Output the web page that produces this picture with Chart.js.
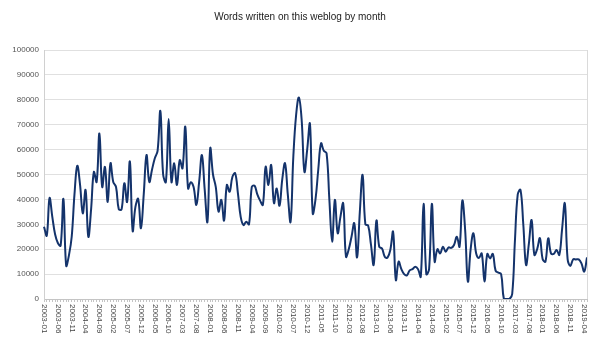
<!DOCTYPE html>
<html>
<head>
<meta charset="utf-8">
<script src="https://cdn.jsdelivr.net/npm/chart.js@4/dist/chart.umd.min.js"></script>
<style>
  html, body { margin: 0; padding: 0; background: #fff; }
  #chart { display: block; }
</style>
</head>
<body>
<canvas id="chart" width="600" height="341"></canvas>
<script>
const chartTitle = 'Words written on this weblog by month';

// months 2003-01 .. 2019-05
const firstYear = 2003;
const monthCount = 197;
const months = [];
for (let i = 0; i < monthCount; i++) {
    const y = firstYear + Math.floor(i / 12);
    const m = (i % 12) + 1;
    months.push(y + '-' + (m < 10 ? '0' + m : m));
}

// words per month
const words = [
    29000, 25500, 40500, 33000, 26000, 22500, 21400, 40200, 13400, 17500,
    25000, 42000, 53500, 46000, 34400, 43800, 25000, 36000, 51000, 47000,
    66500, 45000, 53000, 39000, 54500, 47000, 45000, 36000, 36000, 46500,
    39000, 55200, 27400, 37000, 40200, 28400, 42000, 57800, 47000, 52000,
    56500, 59500, 75500, 50000, 47000, 72300, 47000, 54500, 45800, 55800,
    52500, 69200, 44400, 46900, 45000, 37800, 47000, 57800, 44000, 31000,
    60500, 50000, 45000, 35100, 39800, 31500, 45800, 43100, 49000, 50500,
    42400, 33000, 29700, 31000, 30000, 45000, 45500, 42000, 39500, 37800,
    53100, 45800, 53800, 38500, 44400, 37500, 48000, 54500, 42000, 31000,
    57200, 73900, 80900, 72000, 51100, 60000, 70300, 34400, 40000, 52000,
    62500, 59500, 58500, 40000, 23000, 39800, 26400, 33000, 38400, 17000,
    20000, 25000, 30400, 16700, 35000, 49800, 30000, 29500, 22000, 13700,
    31500, 21000, 20300, 17000, 16600, 19700, 27000, 7600, 15000, 12000,
    10000, 9500, 11500, 12000, 13000, 12000, 9000, 38200, 10000, 12000,
    38200, 15000, 20000, 18300, 21000, 19000, 20700, 20500, 21700, 25000,
    21000, 39500, 28000, 7000, 20000, 26400, 18300, 16500, 18300, 7000,
    18100, 16300, 18100, 11400, 10600, 10000, 0, 0, 0, 2000,
    23700, 42000, 43800, 30000, 13700, 22000, 31700, 17700, 20000, 24400,
    16000, 15000, 24400, 18300, 18100, 19700, 17700, 28000, 38400, 16000,
    13300, 15900, 15900, 15900, 14300, 11000, 16700
];

const tickEvery = 5;
const tickLabels = months.filter((m, i) => i % tickEvery === 0);

const FONT = '"Liberation Sans", Arial, Helvetica, sans-serif';

// x labels run top-to-bottom, which Chart.js can't rotate that way, so draw them here
const xLabelPlugin = {
    id: 'xLabels',
    afterDraw(chart) {
        const ctx = chart.ctx;
        const area = chart.chartArea;
        const xs = chart.scales.x;
        ctx.save();
        // right frame line
        ctx.strokeStyle = '#dadada';
        ctx.lineWidth = 1;
        const rx = Math.round(area.right) + 0.5;
        ctx.beginPath();
        ctx.moveTo(rx, area.top);
        ctx.lineTo(rx, area.bottom);
        ctx.stroke();

        ctx.font = '8px ' + FONT;
        ctx.fillStyle = '#444';
        ctx.textAlign = 'left';
        ctx.textBaseline = 'middle';
        tickLabels.forEach((label, k) => {
            const px = xs.getPixelForValue(k * tickEvery);
            ctx.save();
            ctx.translate(px, area.bottom + 5);
            ctx.rotate(Math.PI / 2);
            ctx.fillText(label, 0, 0);
            ctx.restore();
        });
        ctx.restore();
    }
};

new Chart(document.getElementById('chart'), {
    type: 'line',
    data: {
        labels: months,
        datasets: [{
            data: words,
            borderColor: '#14336b',
            borderWidth: 2,
            pointRadius: 0,
            tension: 0.4,
            fill: false
        }]
    },
    plugins: [xLabelPlugin],
    options: {
        responsive: false,
        devicePixelRatio: 1,
        animation: false,
        layout: { padding: 0 },
        plugins: {
            legend: { display: false },
            tooltip: { enabled: false },
            title: {
                display: true,
                text: chartTitle,
                color: '#222',
                font: { family: FONT, size: 10, weight: 'normal' },
                padding: { top: 11, bottom: 27 }
            }
        },
        scales: {
            x: {
                offset: false,
                grid: {
                    drawOnChartArea: false,
                    drawTicks: true,
                    tickLength: 3,
                    color: '#c4c4c4'
                },
                border: { display: true, color: '#c4c4c4' },
                ticks: { display: false },
                afterFit(scale) {
                    scale.height = 42;
                    scale.paddingRight = 13; // keeps the plot off the right edge, title stays centred
                }
            },
            y: {
                min: 0,
                max: 100000,
                ticks: {
                    stepSize: 10000,
                    color: '#555',
                    padding: 5,
                    font: { family: FONT, size: 8 },
                    callback: (v) => String(v)
                },
                grid: { color: '#e0e0e0', drawTicks: false },
                border: { display: true, color: '#d0d0d0' },
                afterFit(scale) { scale.width = 44; }
            }
        }
    }
});
</script>
</body>
</html>
